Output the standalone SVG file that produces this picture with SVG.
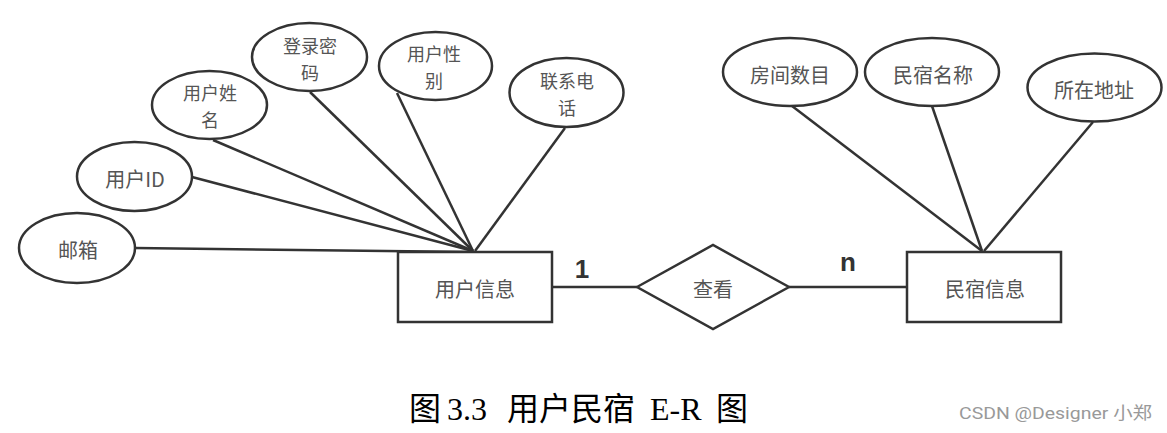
<svg xmlns="http://www.w3.org/2000/svg" width="1167" height="433" viewBox="0 0 1167 433">
<style>
.s{fill:#fff;stroke:#333;stroke-width:2.5}
.c{stroke:#333;stroke-width:2.5;fill:none}
.t{font-family:"Noto Sans CJK SC","Liberation Sans",sans-serif;font-size:20px;fill:#555;text-anchor:middle;dominant-baseline:central}
.t2{font-size:18px}
.card{font-family:"Liberation Sans",Arial,sans-serif;font-size:26px;font-weight:bold;fill:#333;text-anchor:middle}
.cap{font-family:"Liberation Serif","Noto Sans CJK SC",serif;font-size:32px;fill:#000}
.wm{font-family:"Roboto","Noto Sans CJK SC",sans-serif;font-size:17px;fill:#999}
</style>
<rect width="1167" height="433" fill="#fff"/>
<g id="connectors">
<line class="c" x1="135" y1="248" x2="473" y2="252"/>
<line class="c" x1="192" y1="177" x2="473" y2="251"/>
<line class="c" x1="213" y1="140" x2="473" y2="251"/>
<line class="c" x1="310" y1="92" x2="473" y2="251"/>
<line class="c" x1="397" y1="93" x2="473" y2="251"/>
<line class="c" x1="565" y1="128" x2="475" y2="251"/>
<line class="c" x1="792" y1="106" x2="982" y2="251"/>
<line class="c" x1="932" y1="106" x2="982" y2="251"/>
<line class="c" x1="1093" y1="122" x2="984" y2="251"/>
<line class="c" x1="552" y1="287" x2="637" y2="287"/>
<line class="c" x1="789" y1="287" x2="907" y2="287"/>
<text class="card" x="582" y="278">1</text>
<text class="card" x="848" y="271">n</text>
</g>
<g id="attr-email">
<ellipse class="s" cx="77" cy="248" rx="58" ry="35"/>
<text class="t" x="78" y="249">邮箱</text>
</g>
<g id="attr-userid">
<ellipse class="s" cx="134.5" cy="176.5" rx="57.5" ry="34.5"/>
<text class="t" x="135" y="178">用户ID</text>
</g>
<g id="attr-username">
<ellipse class="s" cx="209.5" cy="105" rx="57.5" ry="34"/>
<text class="t t2" x="210" y="92">用户姓</text>
<text class="t t2" x="210" y="119">名</text>
</g>
<g id="attr-password">
<ellipse class="s" cx="309.5" cy="57" rx="57.5" ry="34"/>
<text class="t t2" x="310" y="45">登录密</text>
<text class="t t2" x="310" y="72">码</text>
</g>
<g id="attr-gender">
<ellipse class="s" cx="435.5" cy="66" rx="56.5" ry="34"/>
<text class="t t2" x="434" y="53">用户性</text>
<text class="t t2" x="434" y="80">别</text>
</g>
<g id="attr-phone">
<ellipse class="s" cx="566.5" cy="92.5" rx="57" ry="34.5"/>
<text class="t t2" x="567" y="80">联系电</text>
<text class="t t2" x="567" y="107">话</text>
</g>
<g id="entity-user">
<rect class="s" x="398" y="252" width="154" height="70"/>
<text class="t" x="475" y="288">用户信息</text>
</g>
<g id="rel-view">
<polygon class="s" points="637,287 713,245 789,287 713,329"/>
<text class="t" x="713" y="288">查看</text>
</g>
<g id="entity-homestay">
<rect class="s" x="907" y="252" width="154" height="70"/>
<text class="t" x="985" y="288">民宿信息</text>
</g>
<g id="attr-rooms">
<ellipse class="s" cx="790" cy="72" rx="67" ry="34"/>
<text class="t" x="790" y="74">房间数目</text>
</g>
<g id="attr-name">
<ellipse class="s" cx="932" cy="72" rx="67" ry="34"/>
<text class="t" x="933" y="74">民宿名称</text>
</g>
<g id="attr-address">
<ellipse class="s" cx="1094.5" cy="87.5" rx="67" ry="34"/>
<text class="t" x="1094" y="89">所在地址</text>
</g>
<text class="cap" y="420"><tspan x="409">图</tspan><tspan x="447">3.3</tspan><tspan x="507">用户民宿</tspan><tspan x="650">E-R</tspan><tspan x="716">图</tspan></text>
<text class="wm" x="959" y="419" textLength="193" lengthAdjust="spacingAndGlyphs">CSDN @Designer 小郑</text>
</svg>
